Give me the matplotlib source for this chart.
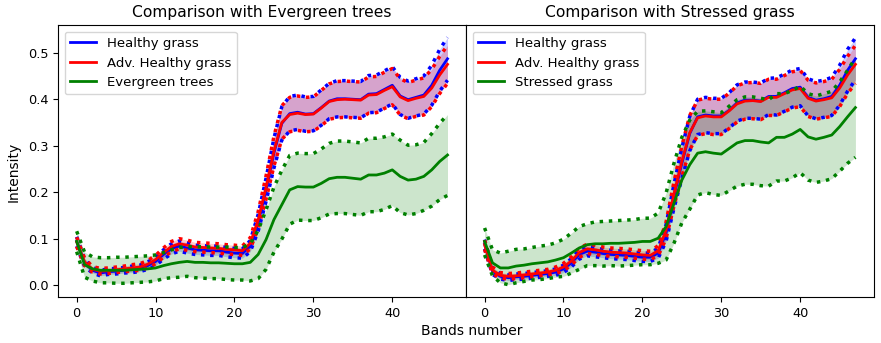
import numpy as np
import matplotlib
matplotlib.use("Agg")
import matplotlib.pyplot as plt

# band index 0..47
bands = np.arange(48)

# --- panel 1: healthy grass vs evergreen trees ---
hg1_mean = [0.094, 0.048, 0.032, 0.026, 0.029, 0.030, 0.032, 0.034, 0.036, 0.042,
            0.051, 0.066, 0.078, 0.084, 0.080, 0.076, 0.075, 0.074, 0.074, 0.071,
            0.069, 0.068, 0.084, 0.134, 0.205, 0.284, 0.348, 0.369, 0.372, 0.368,
            0.369, 0.382, 0.396, 0.401, 0.401, 0.400, 0.399, 0.411, 0.412, 0.421,
            0.430, 0.407, 0.399, 0.404, 0.409, 0.430, 0.462, 0.487]
hg1_std = [0.010, 0.008, 0.006, 0.006, 0.006, 0.006, 0.006, 0.007, 0.007, 0.008,
           0.009, 0.010, 0.011, 0.011, 0.011, 0.010, 0.010, 0.010, 0.010, 0.010,
           0.010, 0.010, 0.012, 0.018, 0.025, 0.032, 0.036, 0.037, 0.037, 0.037,
           0.037, 0.038, 0.038, 0.039, 0.039, 0.039, 0.039, 0.040, 0.040, 0.040,
           0.040, 0.040, 0.040, 0.040, 0.041, 0.043, 0.045, 0.046]
ahg1_mean = [0.093, 0.050, 0.034, 0.030, 0.031, 0.033, 0.035, 0.037, 0.039, 0.045,
             0.055, 0.070, 0.083, 0.089, 0.086, 0.082, 0.081, 0.080, 0.079, 0.077,
             0.076, 0.074, 0.090, 0.140, 0.210, 0.288, 0.350, 0.367, 0.370, 0.367,
             0.368, 0.381, 0.395, 0.399, 0.400, 0.399, 0.398, 0.409, 0.410, 0.419,
             0.427, 0.405, 0.397, 0.402, 0.406, 0.424, 0.452, 0.475]
ahg1_std = [0.010, 0.008, 0.006, 0.006, 0.006, 0.006, 0.006, 0.007, 0.007, 0.008,
            0.009, 0.010, 0.011, 0.011, 0.011, 0.010, 0.010, 0.010, 0.010, 0.010,
            0.010, 0.010, 0.012, 0.018, 0.025, 0.032, 0.036, 0.037, 0.037, 0.037,
            0.037, 0.038, 0.038, 0.039, 0.039, 0.039, 0.039, 0.039, 0.039, 0.039,
            0.039, 0.039, 0.039, 0.039, 0.040, 0.040, 0.040, 0.041]
eg_mean = [0.094, 0.044, 0.035, 0.032, 0.032, 0.032, 0.032, 0.033, 0.034, 0.035,
           0.037, 0.042, 0.046, 0.049, 0.051, 0.049, 0.049, 0.048, 0.048, 0.047,
           0.046, 0.046, 0.049, 0.066, 0.098, 0.141, 0.173, 0.205, 0.212, 0.211,
           0.211, 0.219, 0.229, 0.232, 0.232, 0.230, 0.228, 0.237, 0.237, 0.241,
           0.248, 0.234, 0.226, 0.228, 0.234, 0.248, 0.266, 0.280]
eg_std = [0.022, 0.027, 0.026, 0.027, 0.027, 0.028, 0.028, 0.028, 0.028, 0.028,
          0.028, 0.028, 0.030, 0.032, 0.032, 0.033, 0.034, 0.034, 0.034, 0.035,
          0.035, 0.035, 0.040, 0.052, 0.064, 0.070, 0.074, 0.074, 0.072, 0.072,
          0.072, 0.074, 0.076, 0.078, 0.078, 0.078, 0.078, 0.079, 0.079, 0.078,
          0.077, 0.078, 0.075, 0.074, 0.073, 0.078, 0.082, 0.087]

# --- panel 2: healthy grass vs stressed grass ---
hg2_mean = [0.088, 0.030, 0.019, 0.016, 0.018, 0.019, 0.021, 0.023, 0.025, 0.028,
            0.035, 0.048, 0.066, 0.073, 0.071, 0.068, 0.066, 0.065, 0.064, 0.062,
            0.060, 0.060, 0.069, 0.112, 0.191, 0.262, 0.326, 0.362, 0.366, 0.364,
            0.364, 0.376, 0.392, 0.398, 0.398, 0.396, 0.406, 0.406, 0.414, 0.423,
            0.426, 0.404, 0.398, 0.401, 0.406, 0.430, 0.462, 0.487]
hg2_std = [0.010, 0.007, 0.006, 0.006, 0.006, 0.006, 0.006, 0.006, 0.006, 0.007,
           0.008, 0.009, 0.010, 0.010, 0.010, 0.009, 0.009, 0.009, 0.009, 0.009,
           0.009, 0.009, 0.011, 0.018, 0.026, 0.033, 0.037, 0.038, 0.038, 0.038,
           0.038, 0.038, 0.039, 0.039, 0.039, 0.039, 0.039, 0.040, 0.040, 0.040,
           0.040, 0.040, 0.040, 0.040, 0.041, 0.043, 0.045, 0.045]
ahg2_mean = [0.087, 0.032, 0.021, 0.019, 0.020, 0.022, 0.024, 0.026, 0.028, 0.032,
             0.039, 0.052, 0.070, 0.078, 0.076, 0.073, 0.071, 0.070, 0.069, 0.067,
             0.065, 0.064, 0.074, 0.118, 0.196, 0.266, 0.328, 0.360, 0.364, 0.362,
             0.362, 0.375, 0.390, 0.396, 0.397, 0.395, 0.404, 0.404, 0.412, 0.420,
             0.423, 0.402, 0.396, 0.399, 0.403, 0.424, 0.452, 0.475]
ahg2_std = [0.010, 0.007, 0.006, 0.006, 0.006, 0.006, 0.006, 0.006, 0.006, 0.007,
            0.008, 0.009, 0.010, 0.010, 0.010, 0.009, 0.009, 0.009, 0.009, 0.009,
            0.009, 0.009, 0.011, 0.018, 0.026, 0.033, 0.037, 0.038, 0.038, 0.038,
            0.038, 0.038, 0.039, 0.039, 0.039, 0.039, 0.039, 0.039, 0.039, 0.039,
            0.039, 0.039, 0.039, 0.039, 0.040, 0.040, 0.040, 0.041]
sg_mean = [0.094, 0.048, 0.037, 0.037, 0.041, 0.043, 0.046, 0.048, 0.050, 0.054,
           0.059, 0.069, 0.080, 0.087, 0.089, 0.089, 0.090, 0.090, 0.091, 0.092,
           0.094, 0.094, 0.101, 0.126, 0.176, 0.226, 0.259, 0.284, 0.287, 0.284,
           0.282, 0.294, 0.306, 0.311, 0.311, 0.308, 0.306, 0.318, 0.318, 0.325,
           0.335, 0.319, 0.314, 0.318, 0.323, 0.341, 0.362, 0.382]
sg_std = [0.029, 0.028, 0.032, 0.036, 0.036, 0.035, 0.035, 0.036, 0.036, 0.037,
          0.040, 0.043, 0.046, 0.045, 0.047, 0.048, 0.048, 0.049, 0.049, 0.049,
          0.050, 0.050, 0.054, 0.072, 0.086, 0.092, 0.096, 0.090, 0.088, 0.089,
          0.089, 0.091, 0.093, 0.094, 0.094, 0.094, 0.093, 0.094, 0.094, 0.094,
          0.093, 0.093, 0.093, 0.094, 0.094, 0.096, 0.100, 0.107]

panels = [
    ("Comparison with Evergreen trees",
     [("Healthy grass", hg1_mean, hg1_std, "b"),
      ("Adv. Healthy grass", ahg1_mean, ahg1_std, "r"),
      ("Evergreen trees", eg_mean, eg_std, "g")]),
    ("Comparison with Stressed grass",
     [("Healthy grass", hg2_mean, hg2_std, "b"),
      ("Adv. Healthy grass", ahg2_mean, ahg2_std, "r"),
      ("Stressed grass", sg_mean, sg_std, "g")]),
]

fig, axes = plt.subplots(1, 2, figsize=(8.81, 3.43), dpi=100, sharey=True)
plt.subplots_adjust(left=0.066, right=0.992, bottom=0.134, top=0.927, wspace=0)

for ax, (title, series) in zip(axes, panels):
    for name, m, s, c in series:
        m = np.array(m)
        s = np.array(s)
        ax.plot(bands, m, color=c, lw=2, label=name)
        ax.plot(bands, m + s, color=c, lw=2.5, ls=":")
        ax.plot(bands, m - s, color=c, lw=2.5, ls=":")
        ax.fill_between(bands, m - s, m + s, color=c, alpha=0.2, lw=0)
    ax.set_title(title, fontsize=11.2)
    ax.legend(loc="upper left", fontsize=9.5)
    ax.tick_params(labelsize=9.3)
    ax.set_xticks([0, 10, 20, 30, 40])

axes[1].tick_params(left=False)
axes[0].set_yticks([0.0, 0.1, 0.2, 0.3, 0.4, 0.5])
fig.text(0.016, 0.5, "Intensity", rotation=90, va="center", ha="center", fontsize=10)
fig.text(0.536, 0.035, "Bands number", ha="center", va="center", fontsize=10)

plt.savefig("out.png", dpi=100)
